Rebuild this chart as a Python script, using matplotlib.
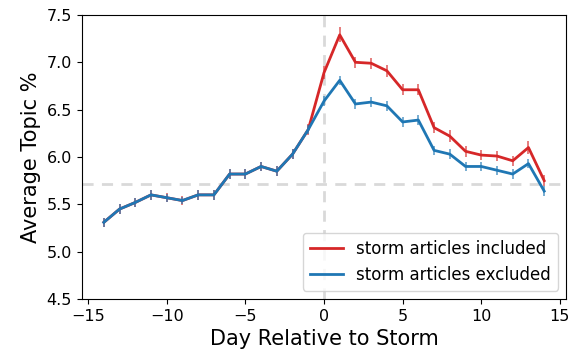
import matplotlib
matplotlib.use("Agg")
import matplotlib.pyplot as plt
import numpy as np

days = list(range(-14, 15))

included = [5.31, 5.45, 5.52, 5.60, 5.57, 5.54, 5.60, 5.60, 5.82, 5.82, 5.90, 5.85, 6.03, 6.29,
            6.89, 7.29, 7.00, 6.99, 6.91, 6.71, 6.71, 6.31, 6.22, 6.06, 6.02, 6.01, 5.96, 6.10, 5.75]
included_err = [0.05, 0.05, 0.05, 0.05, 0.05, 0.05, 0.05, 0.05, 0.05, 0.05, 0.05, 0.05, 0.05, 0.06,
                0.07, 0.08, 0.06, 0.06, 0.06, 0.06, 0.06, 0.06, 0.06, 0.06, 0.05, 0.05, 0.05, 0.07, 0.06]

excluded = [5.31, 5.45, 5.52, 5.60, 5.57, 5.54, 5.60, 5.60, 5.82, 5.82, 5.90, 5.85, 6.03, 6.29,
            6.59, 6.81, 6.56, 6.58, 6.54, 6.37, 6.39, 6.07, 6.03, 5.90, 5.90, 5.86, 5.82, 5.93, 5.64]
excluded_err = [0.05, 0.05, 0.05, 0.05, 0.04, 0.04, 0.05, 0.05, 0.05, 0.05, 0.05, 0.05, 0.05, 0.05,
                0.05, 0.05, 0.05, 0.05, 0.05, 0.05, 0.05, 0.05, 0.05, 0.05, 0.05, 0.05, 0.05, 0.05, 0.05]

baseline = 5.71

red = "#d62728"
blue = "#1f77b4"

fig = plt.figure(figsize=(5.76, 3.56), dpi=100)
ax = fig.add_axes([0.142, 0.160, 0.841, 0.798])

ax.axvline(0, color="lightgray", lw=2, ls=(0, (4, 3)), zorder=1, alpha=0.85)
ax.axhline(baseline, color="lightgray", lw=2, ls=(0, (4, 3)), zorder=1, alpha=0.85)

ax.plot(days, included, color=red, lw=2, label="storm articles included", zorder=3)
ax.errorbar(days, included, yerr=included_err, fmt="none", ecolor=red, elinewidth=1.2, alpha=0.7, zorder=3)
ax.plot(days, excluded, color=blue, lw=2, label="storm articles excluded", zorder=4)
ax.errorbar(days, excluded, yerr=excluded_err, fmt="none", ecolor=blue, elinewidth=1.2, alpha=0.7, zorder=4)

ax.set_ylim(4.5, 7.5)
ax.set_xlim(-15.4, 15.4)
ax.set_xticks([-15, -10, -5, 0, 5, 10, 15])
ax.set_yticks(np.arange(4.5, 7.51, 0.5))
ax.tick_params(labelsize=11.5)
ax.set_xlabel("Day Relative to Storm", fontsize=15)
ax.set_ylabel("Average Topic %", fontsize=15)
ax.legend(loc="lower right", fontsize=12)

fig.savefig("out.png", dpi=100)
